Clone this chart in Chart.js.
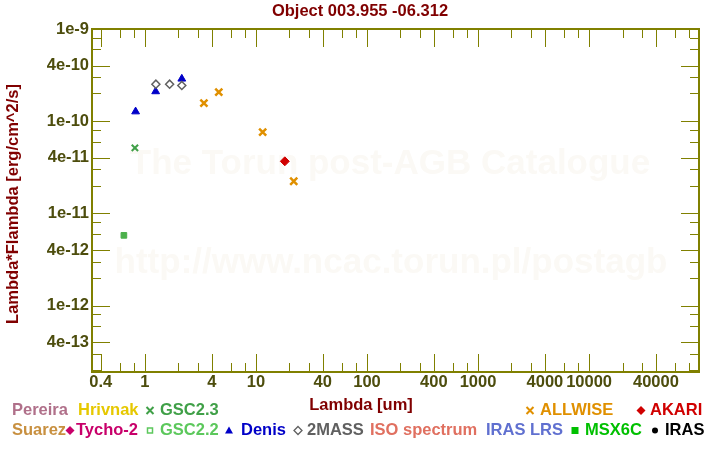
<!DOCTYPE html>
<html>
<head>
<meta charset="utf-8">
<script src="https://cdn.jsdelivr.net/npm/chart.js@4.4.1/dist/chart.umd.min.js"></script>
<style>
    html, body { margin: 0; padding: 0; background: #fff; }
    canvas { display: block; }
</style>
</head>
<body>
<canvas id="sedChart" width="720" height="450"></canvas>
<script>
// photometry: lambda in um, lambda*F_lambda in erg/cm^2/s
var gsc22Lambda = [0.647];
var gsc22Flux = [5.77e-12];
var gsc23Lambda = [0.813];
var gsc23Flux = [5.13e-11];
var denisLambda = [0.825, 1.25, 2.15];
var denisFlux = [1.27e-10, 2.10e-10, 2.88e-10];
var twomassLambda = [1.256, 1.67, 2.15];
var twomassFlux = [2.52e-10, 2.52e-10, 2.44e-10];
var allwiseLambda = [3.40, 4.63, 11.5, 21.9];
var allwiseFlux = [1.57e-10, 2.07e-10, 7.6e-11, 2.23e-11];
var akariLambda = [18.2];
var akariFlux = [3.67e-11];

var xTickLabels = ['0.4', '1', '4', '10', '40', '100', '400', '1000', '4000', '10000', '40000'];
var yTickLabels = ['1e-9', '4e-10', '1e-10', '4e-11', '1e-11', '4e-12', '1e-12', '4e-13'];
var tickMantissas = [1, 2, 3, 4, 6, 8];

var X_MIN = 0.334, X_MAX = 97700;
var Y_MIN = 1.9e-13, Y_MAX = 1e-9;

var FONT = "'Liberation Sans', Arial, sans-serif";
var AXIS_COLOR = '#808000';
var TICK_TEXT = '#4d4d0d';
var TITLE_RED = '#800000';

function points(xs, ys) {
    return xs.map(function (x, i) { return { x: x, y: ys[i] }; });
}

function logTicks(lo, hi, min, max) {
    var out = [];
    for (var e = lo; e <= hi; e++) {
        tickMantissas.forEach(function (m) {
            var v = Number(m + 'e' + e);
            if (v >= min * 0.999 && v <= max * 1.001) {
                out.push(v);
            }
        });
    }
    return out;
}

var xTicks = logTicks(-1, 4, X_MIN, X_MAX);
var yTicks = logTicks(-13, -9, Y_MIN, Y_MAX);

function findLabel(labels, v) {
    for (var i = 0; i < labels.length; i++) {
        if (Math.abs(v / Number(labels[i]) - 1) < 1e-6) {
            return labels[i];
        }
    }
    return null;
}

// faint watermark behind the points
var watermark = {
    id: 'watermark',
    beforeDatasetsDraw: function (chart) {
        var ctx = chart.ctx;
        ctx.save();
        ctx.fillStyle = '#fbf9f5';
        ctx.textAlign = 'center';
        ctx.textBaseline = 'middle';
        ctx.font = 'bold 35px ' + FONT;
        ctx.fillText('The Torun post-AGB Catalogue', 390, 164);
        ctx.fillText('http://www.ncac.torun.pl/postagb', 391, 263);
        ctx.restore();
    }
};

// box frame with inward ticks on all four sides
var frameTicks = {
    id: 'frameTicks',
    beforeDatasetsDraw: function (chart) {
        var ctx = chart.ctx;
        var a = chart.chartArea;
        var xs = chart.scales.x, ys = chart.scales.y;
        ctx.save();
        ctx.strokeStyle = AXIS_COLOR;
        ctx.lineWidth = 1;
        ctx.beginPath();
        xTicks.forEach(function (v) {
            var px = Math.round(xs.getPixelForValue(v)) + 0.5;
            var len = findLabel(xTickLabels, v) ? 18 : 9;
            ctx.moveTo(px, a.bottom); ctx.lineTo(px, a.bottom - len);
            ctx.moveTo(px, a.top); ctx.lineTo(px, a.top + len);
        });
        yTicks.forEach(function (v) {
            var py = Math.round(ys.getPixelForValue(v)) + 0.5;
            var len = findLabel(yTickLabels, v) ? 18 : 9;
            ctx.moveTo(a.left, py); ctx.lineTo(a.left + len, py);
            ctx.moveTo(a.right, py); ctx.lineTo(a.right - len, py);
        });
        ctx.stroke();
        ctx.lineWidth = 2;
        ctx.strokeRect(a.left, a.top, a.right - a.left, a.bottom - a.top);
        ctx.restore();
    }
};

function drawMarker(ctx, kind, x, y, color) {
    ctx.save();
    ctx.strokeStyle = color;
    ctx.fillStyle = color;
    ctx.lineWidth = 2;
    ctx.beginPath();
    if (kind === 'cross') {
        ctx.moveTo(x - 3.5, y - 3.5); ctx.lineTo(x + 3.5, y + 3.5);
        ctx.moveTo(x + 3.5, y - 3.5); ctx.lineTo(x - 3.5, y + 3.5);
        ctx.stroke();
    } else if (kind === 'diamond') {
        ctx.moveTo(x, y - 4.5); ctx.lineTo(x + 4.5, y); ctx.lineTo(x, y + 4.5); ctx.lineTo(x - 4.5, y);
        ctx.closePath(); ctx.fill();
    } else if (kind === 'openDiamond') {
        ctx.lineWidth = 1.3;
        ctx.moveTo(x, y - 4); ctx.lineTo(x + 4, y); ctx.lineTo(x, y + 4); ctx.lineTo(x - 4, y);
        ctx.closePath(); ctx.stroke();
    } else if (kind === 'openSquare') {
        ctx.lineWidth = 1.5;
        ctx.strokeRect(x - 2.5, y - 2.5, 5, 5);
    } else if (kind === 'square') {
        ctx.fillRect(x - 3.5, y - 3.5, 7, 7);
    } else if (kind === 'triangle') {
        ctx.moveTo(x, y - 4); ctx.lineTo(x + 4, y + 3); ctx.lineTo(x - 4, y + 3);
        ctx.closePath(); ctx.fill();
    } else if (kind === 'dot') {
        ctx.arc(x, y, 3, 0, Math.PI * 2); ctx.fill();
    }
    ctx.restore();
}

// catalogue legend, title and axis titles
var legendRows = [
    { text: 'Pereira', color: '#b0708a', marker: null, tx: 12, mx: 0, y: 410.5 },
    { text: 'Hrivnak', color: '#e6c800', marker: null, tx: 78, mx: 0, y: 410.5 },
    { text: 'GSC2.3', color: '#40a048', marker: 'cross', tx: 160, mx: 150, y: 410.5 },
    { text: 'ALLWISE', color: '#e09000', marker: 'cross', tx: 540, mx: 530, y: 410.5 },
    { text: 'AKARI', color: '#d00000', marker: 'diamond', tx: 650, mx: 641, y: 410.5 },
    { text: 'Suarez', color: '#c89040', marker: null, tx: 12, mx: 0, y: 430.5 },
    { text: 'Tycho-2', color: '#c8006a', marker: 'diamond', tx: 76, mx: 70, y: 430.5 },
    { text: 'GSC2.2', color: '#5cc85c', marker: 'openSquare', tx: 160, mx: 150, y: 430.5 },
    { text: 'Denis', color: '#0000c8', marker: 'triangle', tx: 241, mx: 229, y: 430.5 },
    { text: '2MASS', color: '#606060', marker: 'openDiamond', tx: 307, mx: 298, y: 430.5 },
    { text: 'ISO spectrum', color: '#e07060', marker: null, tx: 370, mx: 0, y: 430.5 },
    { text: 'IRAS LRS', color: '#6070d0', marker: null, tx: 486, mx: 0, y: 430.5 },
    { text: 'MSX6C', color: '#00c000', marker: 'square', tx: 585, mx: 575, y: 430.5 },
    { text: 'IRAS', color: '#000000', marker: 'dot', tx: 665, mx: 655, y: 430.5 }
];

var annotations = {
    id: 'annotations',
    afterDraw: function (chart) {
        var ctx = chart.ctx;
        ctx.save();
        ctx.font = 'bold 16.5px ' + FONT;
        ctx.textBaseline = 'middle';
        ctx.fillStyle = TITLE_RED;
        ctx.textAlign = 'center';
        ctx.fillText('Object 003.955 -06.312', 360, 11);
        ctx.fillText('Lambda [um]', 361, 405);
        ctx.save();
        ctx.translate(13, 204);
        ctx.rotate(-Math.PI / 2);
        ctx.fillText('Lambda*Flambda [erg/cm^2/s]', 0, 0);
        ctx.restore();
        ctx.textAlign = 'left';
        legendRows.forEach(function (item) {
            if (item.marker) {
                drawMarker(ctx, item.marker, item.mx, item.y, item.color);
            }
            ctx.fillStyle = item.color;
            ctx.fillText(item.text, item.tx, item.y);
        });
        ctx.restore();
    }
};

new Chart(document.getElementById('sedChart'), {
    type: 'scatter',
    data: {
        datasets: [{
            label: 'GSC2.2',
            data: points(gsc22Lambda, gsc22Flux),
            pointStyle: 'rect',
            pointRadius: 4,
            backgroundColor: '#4cb04c',
            borderColor: '#4cb04c',
            borderWidth: 1,
        }, {
            label: 'GSC2.3',
            data: points(gsc23Lambda, gsc23Flux),
            pointStyle: 'crossRot',
            pointRadius: 4.5,
            borderColor: '#40a048',
            borderWidth: 2,
        }, {
            label: '2MASS',
            data: points(twomassLambda, twomassFlux),
            pointStyle: 'rectRot',
            pointRadius: 4,
            backgroundColor: '#ffffff',
            borderColor: '#606060',
            borderWidth: 1.5,
        }, {
            label: 'Denis',
            data: points(denisLambda, denisFlux),
            pointStyle: 'triangle',
            pointRadius: 4.5,
            backgroundColor: '#0000c8',
            borderColor: '#0000c8',
            borderWidth: 1,
        }, {
            label: 'ALLWISE',
            data: points(allwiseLambda, allwiseFlux),
            pointStyle: 'crossRot',
            pointRadius: 5,
            borderColor: '#e09000',
            borderWidth: 2.5,
        }, {
            label: 'AKARI',
            data: points(akariLambda, akariFlux),
            pointStyle: 'rectRot',
            pointRadius: 4.5,
            backgroundColor: '#d00000',
            borderColor: '#d00000',
            borderWidth: 1,
        }],
    },
    options: {
        responsive: false,
        animation: false,
        events: [],
        layout: { padding: { top: 29, right: 21, left: 0, bottom: 0 } },
        plugins: { legend: { display: false }, tooltip: { enabled: false } },
        scales: {
            x: {
                type: 'logarithmic',
                position: 'bottom',
                bounds: 'data',
                min: X_MIN,
                max: X_MAX,
                afterBuildTicks: function (scale) {
                    scale.ticks = xTicks.map(function (v) { return { value: v }; });
                },
                afterFit: function (scale) { scale.height = 78; },
                grid: { display: false, drawTicks: false },
                border: { display: false },
                ticks: {
                    autoSkip: false,
                    maxRotation: 0,
                    padding: 1,
                    color: TICK_TEXT,
                    font: { family: FONT, size: 16.5, weight: 'bold' },
                    callback: function (v) { return findLabel(xTickLabels, v) || ''; },
                },
            },
            y: {
                type: 'logarithmic',
                position: 'left',
                bounds: 'data',
                min: Y_MIN,
                max: Y_MAX,
                afterBuildTicks: function (scale) {
                    scale.ticks = yTicks.map(function (v) { return { value: v }; });
                },
                afterFit: function (scale) { scale.width = 92; },
                grid: { display: false, drawTicks: false },
                border: { display: false },
                ticks: {
                    autoSkip: false,
                    padding: 3,
                    color: TICK_TEXT,
                    font: { family: FONT, size: 16.5, weight: 'bold' },
                    callback: function (v) { return findLabel(yTickLabels, v) || ''; },
                },
            },
        },
    },
    plugins: [watermark, frameTicks, annotations],
});
</script>
</body>
</html>
